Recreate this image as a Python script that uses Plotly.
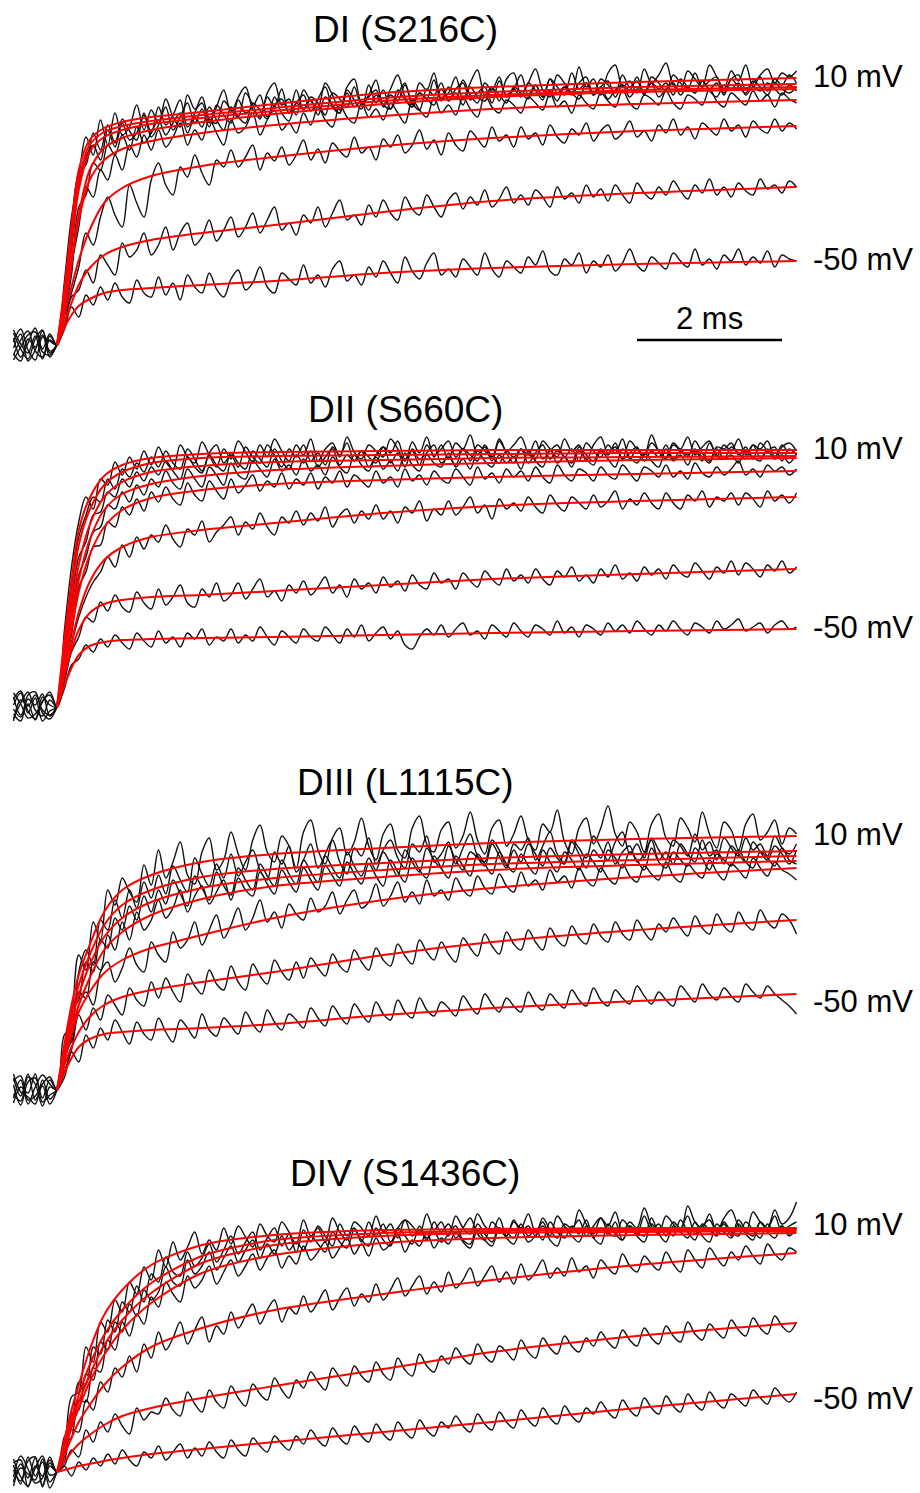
import numpy as np
import plotly.graph_objects as go

# ---------------- text ----------------
panel_titles = ["DI (S216C)", "DII (S660C)", "DIII (L1115C)", "DIV (S1436C)"]
top_label = "10 mV"
bottom_label = "-50 mV"
scale_label = "2 ms"
scale_bar_start_ms = 8.0
scale_bar_len_ms = 2.0

# ---------------- sampling ----------------
trace_t0_ms = -0.6       # first sample of the recorded traces (pulse onset at 0)
trace_dt_ms = 0.1        # sampling interval of the traces shown
fit_t = [0, 0.1, 0.2, 0.3, 0.45, 0.65, 0.9, 1.3, 2, 3, 4.5, 6, 8, 10.2]

# ---------------- DI (S216C) ----------------
DI_fits = [
    [0, 55, 120, 175, 205, 217, 223, 228, 233, 241, 252, 258, 263, 267],
    [0, 50, 110, 165, 200, 213, 219, 224, 230, 237, 247, 253, 258, 261],
    [0, 45, 100, 155, 193, 208, 215, 221, 227, 234, 244, 250, 255, 258],
    [0, 35, 80, 130, 175, 197, 207, 215, 223, 231, 241, 248, 253, 256],
    [0, 40, 85, 125, 165, 185, 196, 204, 212, 220, 229, 236, 241, 245],
    [0, 30, 58, 85, 115, 142, 157, 169, 179, 188, 199, 207, 214, 219],
    [0, 22, 42, 60, 77, 90, 98, 105, 112, 120, 133, 144, 152, 158],
    [0, 17, 30, 39, 46, 52, 55, 57, 60, 64, 72, 77, 81, 84],
]
DI_traces = [
    [12, -4, -14, 6, 15, -8, 2, 62, 128, 168,
     208, 190, 225, 200, 232, 210, 218, 240, 215, 235,
     222, 246, 228, 218, 250, 236, 242, 222, 238, 255,
     232, 248, 258, 236, 228, 252, 262, 240, 246, 230,
     255, 244, 238, 262, 250, 235, 258, 266, 242, 250,
     265, 240, 256, 270, 248, 238, 262, 255, 272, 246,
     252, 268, 245, 262, 275, 250, 258, 244, 266, 272,
     250, 262, 276, 255, 248, 270, 262, 252, 278, 258,
     266, 250, 272, 280, 258, 264, 252, 276, 262, 270,
     282, 260, 255, 274, 266, 258, 280, 268, 256, 274,
     264, 280, 258, 270, 276, 262, 272, 268, 274],
    [-10, 5, 14, -6, -12, 9, 0, 45, 118, 172,
     180, 212, 195, 220, 202, 226, 214, 205, 232, 212,
     238, 220, 230, 245, 218, 232, 248, 226, 222, 244,
     235, 228, 252, 240, 226, 248, 238, 256, 232, 242,
     250, 234, 246, 258, 238, 232, 255, 245, 236, 260,
     242, 255, 236, 250, 262, 240, 252, 246, 265, 244,
     258, 246, 265, 250, 242, 262, 255, 268, 248, 256,
     270, 250, 260, 248, 266, 258, 250, 272, 256, 262,
     250, 266, 260, 252, 270, 258, 264, 250, 268, 262,
     254, 270, 262, 256, 272, 258, 264, 268, 252, 266,
     270, 256, 262, 268, 254, 266, 260, 270, 262],
    [3, 16, -5, -15, 8, 4, 0, 52, 95, 160,
     188, 200, 185, 215, 198, 222, 205, 212, 230, 208,
     220, 238, 215, 228, 242, 222, 236, 218, 240, 230,
     222, 245, 232, 238, 250, 228, 240, 246, 232, 255,
     235, 248, 242, 230, 252, 246, 238, 258, 240, 248,
     255, 238, 250, 244, 260, 242, 235, 256, 250, 262,
     244, 256, 262, 245, 252, 258, 242, 264, 250, 256,
     248, 262, 255, 245, 266, 252, 258, 250, 262, 268,
     250, 258, 264, 248, 260, 255, 268, 252, 262, 256,
     262, 250, 266, 258, 252, 264, 256, 262, 250, 266,
     258, 252, 264, 258, 250, 262, 256, 252, 258],
    [-15, -2, 10, 13, -7, -10, 0, 30, 70, 138,
     150, 182, 175, 200, 190, 210, 195, 218, 202, 212,
     225, 210, 222, 232, 212, 228, 218, 238, 225, 215,
     238, 228, 222, 242, 235, 226, 248, 232, 224, 242,
     236, 245, 230, 248, 240, 232, 252, 238, 244, 235,
     250, 240, 236, 255, 245, 238, 252, 246, 240, 256,
     245, 252, 240, 258, 248, 244, 256, 250, 242, 258,
     252, 246, 260, 248, 254, 244, 258, 252, 246, 262,
     250, 258, 246, 255, 260, 248, 256, 252, 262, 248,
     256, 262, 250, 258, 252, 264, 254, 248, 260, 256,
     262, 250, 258, 254, 262, 256, 250, 260, 254],
    [7, -12, 2, 17, -4, 11, 0, 35, 80, 118,
     158, 148, 175, 165, 190, 175, 200, 188, 210, 195,
     215, 198, 208, 222, 200, 215, 205, 226, 212, 200,
     225, 212, 218, 232, 210, 225, 235, 215, 222, 212,
     232, 220, 238, 225, 218, 240, 228, 222, 242, 228,
     236, 225, 242, 232, 222, 245, 235, 228, 248, 232,
     240, 230, 248, 236, 228, 250, 238, 232, 245, 240,
     232, 248, 242, 235, 252, 238, 244, 232, 250, 242,
     236, 252, 244, 238, 255, 242, 236, 250, 246, 240,
     254, 242, 236, 250, 246, 240, 256, 244, 238, 252,
     246, 240, 254, 244, 250, 238, 252, 246, 242],
    [-3, 11, -16, -5, 14, -6, 0, 28, 52, 78,
     112, 100, 128, 148, 130, 118, 160, 142, 128, 165,
     182, 160, 150, 178, 168, 190, 172, 160, 185, 178,
     195, 178, 188, 200, 175, 192, 184, 198, 180, 190,
     205, 185, 196, 182, 202, 194, 188, 208, 192, 198,
     185, 206, 198, 210, 192, 200, 215, 196, 205, 190,
     212, 200, 194, 214, 206, 198, 218, 204, 210, 198,
     218, 206, 212, 200, 220, 208, 202, 216, 210, 222,
     204, 214, 220, 206, 212, 224, 208, 214, 204, 220,
     212, 226, 210, 218, 206, 222, 216, 210, 226, 214,
     220, 208, 224, 216, 212, 226, 214, 222, 216],
    [15, 1, -8, 9, -14, 5, 0, 20, 48, 55,
     75, 62, 90, 80, 70, 102, 88, 95, 112, 90,
     100, 118, 95, 112, 122, 100, 108, 125, 104, 115,
     128, 108, 118, 132, 112, 125, 138, 115, 122, 110,
     130, 122, 138, 118, 132, 145, 125, 130, 120, 140,
     128, 145, 132, 125, 148, 136, 130, 150, 138, 128,
     145, 152, 136, 148, 140, 155, 138, 146, 158, 142,
     150, 140, 155, 148, 138, 158, 146, 152, 142, 160,
     148, 156, 144, 160, 150, 142, 162, 152, 146, 158,
     150, 164, 154, 146, 160, 152, 166, 150, 158, 148,
     162, 154, 150, 166, 156, 160, 152, 164, 158],
    [-9, -16, 6, -2, 10, -12, 0, 15, 38, 28,
     50, 40, 58, 45, 62, 48, 42, 65, 52, 48,
     68, 50, 62, 45, 70, 58, 52, 72, 56, 48,
     66, 75, 55, 62, 78, 58, 52, 72, 66, 60,
     80, 62, 70, 58, 76, 84, 64, 70, 60, 78,
     68, 84, 72, 62, 88, 74, 66, 82, 92, 70,
     76, 68, 86, 78, 70, 92, 76, 68, 84, 78,
     72, 88, 80, 94, 74, 70, 86, 80, 92, 72,
     84, 78, 90, 74, 82, 96, 80, 74, 88, 82,
     76, 92, 84, 78, 96, 80, 86, 76, 90, 84,
     96, 80, 88, 82, 94, 78, 90, 86, 84],
]

# ---------------- DII (S660C) ----------------
DII_fits = [
    [0, 67, 127, 177, 209, 231, 242, 249, 253, 255, 256, 257, 257, 257],
    [0, 57, 112, 162, 197, 222, 235, 244, 249, 251, 252, 253, 254, 254],
    [0, 47, 97, 142, 182, 210, 225, 235, 241, 245, 247, 249, 250, 251],
    [0, 42, 87, 127, 167, 197, 213, 223, 231, 237, 241, 244, 247, 249],
    [0, 37, 77, 115, 152, 180, 197, 209, 217, 223, 227, 230, 233, 236],
    [0, 32, 64, 95, 125, 147, 160, 170, 177, 184, 194, 201, 206, 210],
    [0, 31, 57, 77, 94, 103, 107, 110, 112, 116, 122, 128, 133, 138],
    [0, 21, 39, 52, 61, 65, 67, 68, 69, 70, 72, 74, 76, 78],
]
DII_traces = [
    [10, -8, 3, -13, 6, 12, 0, 75, 140, 185,
     210, 198, 228, 222, 245, 232, 250, 238, 256, 242,
     260, 245, 238, 262, 250, 244, 265, 252, 240, 258,
     248, 266, 255, 245, 262, 250, 268, 256, 246, 262,
     252, 268, 246, 258, 264, 250, 270, 255, 248, 262,
     256, 250, 268, 258, 246, 265, 254, 270, 250, 262,
     248, 264, 258, 272, 252, 260, 246, 266, 256, 262,
     270, 254, 248, 266, 258, 250, 268, 256, 262, 246,
     262, 270, 254, 260, 248, 266, 258, 252, 272, 256,
     250, 264, 258, 270, 252, 260, 266, 250, 262, 256,
     268, 252, 262, 258, 266, 250, 260, 264, 256],
    [-12, 4, 15, -3, -9, 7, 0, 60, 120, 170,
     192, 210, 205, 228, 218, 238, 230, 244, 235, 250,
     240, 256, 244, 238, 258, 248, 236, 254, 262, 244,
     252, 240, 260, 250, 244, 262, 252, 240, 258, 250,
     262, 246, 254, 242, 260, 252, 264, 246, 256, 250,
     244, 260, 254, 266, 248, 256, 242, 262, 252, 258,
     266, 250, 258, 246, 262, 256, 250, 268, 254, 244,
     258, 252, 266, 248, 256, 262, 250, 258, 246, 264,
     256, 250, 262, 254, 268, 248, 258, 252, 264, 256,
     248, 262, 256, 250, 266, 254, 246, 260, 258, 264,
     252, 260, 248, 264, 256, 250, 262, 254, 258],
    [2, 14, -6, 9, -14, -4, 0, 50, 102, 150,
     165, 192, 195, 215, 210, 228, 220, 235, 226, 240,
     232, 246, 236, 228, 250, 240, 234, 252, 242, 236,
     254, 244, 238, 256, 248, 240, 258, 246, 238, 252,
     244, 256, 240, 250, 258, 242, 252, 246, 256, 240,
     252, 260, 244, 254, 240, 258, 248, 254, 262, 244,
     250, 242, 258, 252, 246, 262, 250, 244, 256, 250,
     258, 244, 254, 262, 248, 256, 250, 244, 260, 252,
     246, 258, 252, 264, 248, 254, 260, 246, 256, 250,
     262, 248, 256, 252, 258, 246, 264, 252, 248, 260,
     254, 248, 262, 250, 256, 260, 246, 258, 252],
    [-7, -14, 8, 2, 13, -9, 0, 45, 88, 132,
     150, 175, 180, 202, 198, 215, 205, 222, 212, 228,
     220, 236, 224, 218, 238, 228, 220, 240, 232, 222,
     244, 232, 228, 246, 238, 230, 248, 236, 242, 232,
     248, 236, 242, 232, 250, 240, 234, 252, 242, 236,
     250, 238, 246, 236, 254, 242, 236, 252, 244, 240,
     254, 240, 248, 238, 256, 246, 240, 252, 244, 250,
     238, 256, 246, 240, 258, 244, 250, 240, 256, 248,
     242, 256, 248, 240, 258, 250, 244, 254, 246, 240,
     258, 246, 252, 242, 256, 250, 244, 258, 248, 252,
     244, 256, 250, 246, 258, 248, 252, 244, 254],
    [14, 3, -11, -7, 5, 15, 0, 40, 72, 120,
     135, 160, 162, 185, 180, 200, 192, 208, 196, 215,
     205, 220, 208, 202, 224, 212, 206, 226, 216, 208,
     228, 214, 222, 232, 216, 226, 220, 234, 218, 228,
     222, 234, 218, 230, 224, 236, 220, 232, 226, 220,
     236, 224, 230, 220, 238, 226, 232, 222, 236, 228,
     224, 238, 230, 222, 240, 228, 234, 224, 238, 230,
     236, 226, 240, 230, 224, 242, 232, 226, 238, 234,
     226, 240, 232, 228, 242, 234, 226, 240, 236, 230,
     242, 230, 236, 228, 244, 234, 230, 240, 232, 238,
     246, 232, 238, 230, 242, 236, 240, 232, 238],
    [-2, -10, 12, 15, -6, -12, 0, 28, 62, 90,
     110, 125, 135, 150, 140, 162, 150, 170, 158, 172,
     165, 182, 168, 160, 178, 172, 186, 165, 175, 182,
     190, 172, 185, 178, 194, 180, 172, 190, 184, 196,
     182, 194, 186, 200, 180, 192, 198, 184, 196, 188,
     202, 188, 196, 184, 200, 194, 206, 186, 198, 192,
     206, 192, 200, 210, 194, 202, 188, 208, 198, 204,
     196, 210, 200, 194, 212, 202, 196, 210, 204, 198,
     212, 200, 206, 216, 198, 208, 202, 214, 204, 198,
     214, 204, 198, 212, 206, 216, 200, 210, 206, 214,
     202, 214, 208, 200, 216, 206, 212, 204, 214],
    [8, 16, -4, -12, 10, 2, 0, 25, 55, 70,
     90, 85, 105, 96, 112, 100, 95, 115, 104, 98,
     118, 102, 110, 122, 104, 100, 118, 110, 124, 106,
     112, 124, 108, 118, 128, 110, 116, 106, 122, 114,
     126, 112, 120, 130, 114, 122, 110, 128, 118, 124,
     114, 130, 120, 126, 116, 132, 122, 118, 134, 124,
     128, 118, 134, 126, 120, 136, 128, 122, 138, 126,
     132, 124, 138, 128, 122, 136, 130, 140, 126, 132,
     124, 138, 130, 142, 128, 134, 126, 140, 132, 138,
     128, 142, 134, 130, 144, 136, 128, 140, 134, 146,
     132, 144, 138, 130, 142, 136, 146, 134, 140],
    [-14, 7, 1, 12, -3, -8, 0, 18, 42, 48,
     62, 55, 68, 60, 72, 64, 58, 74, 66, 60,
     76, 64, 70, 60, 74, 68, 78, 62, 70, 66,
     78, 64, 72, 66, 80, 70, 62, 76, 70, 64,
     78, 70, 66, 80, 72, 64, 78, 70, 82, 66,
     74, 80, 68, 76, 62, 58, 70, 78, 72, 82,
     70, 78, 84, 72, 76, 68, 82, 76, 70, 84,
     76, 70, 82, 78, 72, 86, 74, 80, 70, 82,
     78, 72, 84, 76, 82, 74, 86, 78, 72, 82,
     76, 86, 78, 72, 84, 80, 74, 86, 78, 82,
     88, 76, 80, 84, 74, 82, 86, 78, 80],
]

# ---------------- DIII (L1115C) ----------------
DIII_fits = [
    [0, 45, 85, 115, 145, 178, 200, 215, 228, 236, 242, 247, 251, 254],
    [0, 40, 75, 105, 135, 165, 185, 200, 213, 221, 227, 232, 236, 239],
    [0, 35, 68, 95, 125, 153, 172, 188, 202, 212, 220, 226, 230, 234],
    [0, 32, 60, 85, 112, 140, 158, 175, 191, 204, 213, 220, 225, 229],
    [0, 30, 55, 78, 98, 117, 130, 142, 155, 172, 190, 202, 213, 222],
    [0, 24, 43, 58, 73, 85, 93, 100, 108, 118, 135, 148, 160, 170],
    [0, 17, 32, 43, 51, 56, 58, 60, 62, 66, 75, 82, 89, 96],
]
DIII_traces = [
    [12, -6, 16, -10, 4, -14, 0, 38, 70, 135,
     120, 168, 150, 200, 185, 212, 198, 188, 225, 205,
     240, 212, 228, 248, 215, 206, 238, 252, 220, 230,
     258, 236, 220, 250, 265, 238, 228, 254, 244, 222,
     258, 270, 240, 226, 252, 262, 235, 248, 272, 244,
     230, 256, 266, 240, 232, 262, 274, 246, 238, 260,
     268, 242, 254, 278, 250, 236, 262, 270, 244, 256,
     274, 250, 240, 266, 258, 280, 248, 236, 262, 272,
     246, 262, 284, 256, 244, 268, 258, 238, 266, 276,
     252, 244, 272, 262, 248, 278, 256, 242, 268, 260,
     240, 266, 276, 250, 258, 270, 246, 262, 256],
    [-8, 10, -14, 3, 15, 6, 0, 55, 62, 118,
     140, 125, 170, 160, 190, 172, 200, 182, 208, 192,
     215, 196, 224, 210, 198, 232, 216, 204, 226, 212,
     236, 214, 228, 240, 220, 210, 238, 226, 244, 218,
     230, 246, 222, 236, 250, 228, 216, 242, 234, 252,
     226, 240, 250, 232, 222, 246, 238, 254, 228, 236,
     248, 226, 242, 256, 234, 228, 250, 240, 224, 246,
     240, 252, 230, 244, 258, 236, 228, 250, 242, 232,
     254, 242, 230, 248, 258, 236, 246, 232, 252, 240,
     230, 250, 244, 234, 256, 240, 248, 230, 252, 242,
     234, 252, 240, 246, 234, 254, 242, 236, 246],
    [5, -15, 8, 12, -8, 10, 0, 25, 80, 90,
     128, 118, 150, 142, 172, 160, 184, 170, 194, 178,
     200, 186, 210, 196, 184, 214, 202, 190, 218, 204,
     195, 222, 210, 200, 226, 214, 204, 230, 216, 206,
     230, 218, 208, 234, 222, 212, 238, 224, 214, 232,
     220, 238, 226, 214, 240, 228, 218, 242, 230, 222,
     244, 230, 220, 238, 232, 224, 246, 234, 222, 240,
     228, 246, 236, 224, 242, 232, 226, 248, 236, 222,
     240, 232, 248, 226, 238, 244, 228, 236, 250, 230,
     238, 226, 246, 236, 228, 250, 234, 240, 226, 244,
     236, 228, 248, 238, 230, 244, 236, 226, 240],
    [-13, 3, -3, 16, -12, -5, 0, 30, 52, 98,
     92, 128, 120, 155, 140, 168, 150, 178, 160, 170,
     190, 172, 182, 200, 178, 194, 204, 186, 198, 210,
     190, 212, 200, 194, 218, 206, 196, 220, 208, 198,
     222, 210, 200, 224, 214, 204, 228, 216, 206, 226,
     214, 204, 230, 218, 208, 232, 220, 212, 234, 222,
     212, 234, 224, 214, 236, 226, 216, 238, 226, 218,
     236, 224, 216, 240, 228, 218, 238, 230, 220, 236,
     228, 218, 240, 232, 222, 238, 230, 220, 242, 228,
     222, 238, 230, 224, 242, 232, 220, 236, 230, 224,
     240, 228, 222, 238, 232, 224, 242, 230, 226],
    [9, 14, -10, -6, 6, 13, 0, 40, 48, 85,
     98, 85, 118, 128, 108, 122, 142, 125, 118, 148,
     135, 128, 158, 142, 150, 168, 145, 160, 175, 152,
     165, 182, 160, 172, 190, 168, 178, 162, 186, 176,
     170, 192, 178, 184, 198, 176, 190, 200, 182, 188,
     206, 184, 194, 208, 188, 198, 186, 210, 194, 200,
     190, 212, 200, 194, 214, 202, 196, 216, 204, 198,
     218, 204, 210, 200, 220, 208, 214, 202, 222, 210,
     204, 222, 212, 206, 226, 214, 208, 224, 216, 210,
     228, 214, 208, 226, 218, 212, 230, 218, 210, 226,
     220, 212, 232, 222, 214, 228, 220, 216, 210],
    [-4, -11, 13, 6, -16, 3, 0, 18, 40, 75,
     60, 82, 70, 95, 85, 75, 102, 90, 84, 108,
     92, 112, 98, 88, 116, 104, 96, 120, 106, 100,
     124, 108, 100, 126, 114, 106, 130, 118, 110, 128,
     112, 132, 122, 114, 136, 124, 118, 140, 128, 120,
     142, 130, 124, 146, 134, 126, 150, 138, 130, 148,
     136, 128, 152, 142, 134, 156, 144, 136, 158, 146,
     140, 160, 148, 140, 162, 150, 144, 164, 152, 146,
     166, 154, 148, 168, 156, 150, 170, 158, 150, 166,
     158, 172, 162, 154, 174, 162, 156, 176, 164, 158,
     178, 166, 160, 180, 168, 162, 176, 170, 156],
    [16, -2, -7, -14, 10, -9, 0, 12, 38, 28,
     55, 42, 62, 50, 70, 58, 46, 68, 56, 50,
     72, 58, 48, 70, 62, 52, 76, 60, 54, 72,
     64, 56, 78, 66, 58, 80, 68, 60, 76, 70,
     62, 82, 72, 64, 84, 74, 66, 86, 76, 68,
     88, 76, 70, 90, 78, 72, 92, 80, 74, 88,
     82, 74, 94, 84, 76, 96, 86, 78, 92, 84,
     78, 98, 86, 80, 96, 88, 82, 100, 90, 84,
     102, 90, 84, 100, 92, 86, 104, 94, 86, 98,
     90, 84, 104, 96, 88, 106, 96, 90, 102, 94,
     88, 106, 98, 92, 104, 96, 90, 84, 76],
]

# ---------------- DIV (S1436C) ----------------
DIV_fits = [
    [0, 32, 62, 87, 122, 157, 182, 207, 227, 237, 242, 243, 244, 244],
    [0, 27, 54, 77, 107, 137, 162, 189, 216, 232, 239, 241, 242, 242],
    [0, 24, 49, 70, 97, 127, 152, 179, 209, 227, 236, 239, 240, 241],
    [0, 22, 44, 64, 90, 117, 142, 169, 199, 217, 229, 234, 237, 239],
    [0, 17, 34, 50, 67, 87, 105, 125, 144, 162, 178, 192, 207, 219],
    [0, 10, 20, 28, 37, 47, 56, 64, 74, 86, 103, 120, 136, 149],
    [0, 2, 4, 6, 8, 11, 14, 18, 23, 30, 40, 50, 64, 78],
]
DIV_traces = [
    [7, -12, 15, -4, 10, -16, 0, 20, 75, 80,
     125, 110, 150, 140, 172, 160, 190, 178, 205, 192,
     222, 205, 230, 212, 225, 240, 218, 232, 222, 244,
     228, 246, 235, 225, 248, 236, 230, 250, 240, 228,
     252, 236, 244, 230, 254, 240, 232, 250, 244, 236,
     256, 240, 248, 234, 252, 246, 238, 258, 242, 250,
     236, 256, 244, 238, 258, 246, 240, 254, 236, 250,
     244, 258, 240, 250, 236, 256, 246, 240, 262, 248,
     238, 254, 246, 260, 240, 250, 244, 264, 246, 238,
     256, 248, 240, 266, 250, 244, 258, 240, 254, 262,
     246, 240, 260, 250, 244, 262, 248, 254, 270],
    [-10, 8, -6, 14, -13, 9, 0, 35, 45, 90,
     88, 125, 118, 152, 140, 170, 160, 186, 170, 198,
     190, 215, 200, 196, 220, 206, 214, 228, 210, 222,
     236, 218, 230, 240, 222, 234, 244, 226, 238, 220,
     242, 230, 246, 236, 226, 248, 236, 244, 230, 250,
     236, 248, 230, 244, 252, 236, 242, 232, 250, 240,
     248, 234, 244, 254, 238, 232, 250, 242, 236, 252,
     240, 246, 236, 254, 242, 234, 248, 244, 252, 236,
     246, 254, 240, 236, 252, 244, 238, 256, 242, 248,
     236, 250, 244, 256, 238, 246, 252, 240, 248, 236,
     252, 242, 236, 250, 244, 256, 240, 246, 250],
    [13, -5, -14, 4, 16, -3, 0, 15, 58, 62,
     98, 92, 130, 122, 150, 140, 168, 156, 182, 172,
     180, 205, 190, 186, 212, 198, 206, 220, 202, 214,
     226, 210, 222, 232, 214, 228, 218, 236, 222, 230,
     222, 236, 228, 220, 240, 230, 224, 242, 232, 226,
     244, 232, 226, 244, 236, 228, 246, 234, 240, 230,
     238, 246, 232, 228, 248, 238, 230, 244, 240, 234,
     248, 236, 242, 232, 250, 240, 234, 246, 238, 252,
     234, 244, 238, 250, 232, 246, 240, 236, 254, 240,
     244, 236, 252, 240, 232, 248, 242, 236, 250, 240,
     236, 250, 242, 234, 248, 240, 246, 236, 244],
    [-5, 16, 3, -11, -6, 12, 0, 28, 35, 72,
     70, 104, 100, 132, 122, 150, 136, 158, 148, 175,
     165, 190, 178, 170, 196, 184, 192, 206, 188, 200,
     212, 196, 206, 218, 202, 214, 222, 204, 216, 208,
     226, 212, 220, 230, 214, 224, 234, 218, 228, 216,
     234, 222, 228, 238, 220, 232, 226, 240, 224, 234,
     228, 240, 230, 224, 242, 232, 226, 244, 234, 228,
     242, 230, 236, 246, 232, 226, 244, 236, 230, 246,
     234, 228, 248, 238, 232, 246, 236, 230, 248, 238,
     230, 246, 240, 234, 250, 236, 230, 248, 240, 234,
     248, 238, 232, 250, 240, 234, 246, 238, 244],
    [2, -9, 11, 15, -15, 6, 0, 10, 42, 40,
     72, 62, 90, 80, 104, 95, 116, 100, 128, 114,
     140, 122, 134, 150, 128, 142, 155, 130, 146, 138,
     160, 144, 156, 168, 148, 162, 172, 150, 164, 158,
     176, 160, 170, 182, 162, 174, 184, 166, 178, 170,
     188, 172, 182, 194, 176, 186, 196, 178, 190, 180,
     200, 184, 192, 204, 186, 196, 206, 190, 200, 188,
     208, 192, 200, 212, 194, 204, 196, 214, 200, 206,
     194, 212, 204, 198, 218, 206, 200, 216, 208, 202,
     220, 208, 200, 222, 212, 204, 224, 214, 206, 220,
     212, 226, 216, 208, 228, 218, 212, 224, 220],
    [-14, 4, -2, -8, 13, -10, 0, 6, 22, 15,
     42, 30, 50, 40, 58, 46, 38, 64, 52, 60,
     58, 74, 62, 56, 80, 68, 60, 82, 70, 64,
     86, 74, 66, 88, 78, 72, 94, 82, 74, 92,
     84, 100, 90, 82, 104, 94, 86, 106, 96, 90,
     110, 98, 92, 114, 102, 96, 118, 106, 100, 116,
     108, 124, 114, 108, 128, 116, 110, 126, 120, 112,
     132, 120, 114, 134, 124, 118, 136, 126, 120, 134,
     126, 140, 130, 124, 142, 132, 126, 144, 134, 128,
     146, 136, 130, 150, 138, 132, 148, 140, 134, 152,
     142, 136, 154, 144, 138, 156, 146, 140, 150],
    [9, 12, -15, 6, -4, 15, 0, 6, -4, 10,
     2, 14, 6, 18, 8, 22, 12, 6, 20, 14,
     26, 12, 20, 28, 14, 24, 16, 30, 20, 14,
     32, 22, 16, 34, 26, 20, 36, 28, 22, 36,
     28, 42, 32, 26, 44, 34, 28, 46, 36, 30,
     48, 38, 32, 50, 40, 34, 52, 42, 36, 50,
     44, 56, 46, 40, 58, 48, 42, 60, 50, 44,
     62, 52, 46, 64, 54, 48, 66, 56, 50, 64,
     58, 70, 60, 54, 72, 62, 56, 74, 64, 58,
     76, 66, 60, 78, 68, 62, 80, 70, 64, 78,
     72, 66, 82, 74, 68, 84, 76, 70, 80],
]

panels_fits = [DI_fits, DII_fits, DIII_fits, DIV_fits]
panels_traces = [DI_traces, DII_traces, DIII_traces, DIV_traces]

# ---------------- geometry (pixels of the 920 x 1493 page) ----------------
FIG_W, FIG_H = 920, 1493
PX_PER_MS = 72.5
ONSET_PX = 57
# (top px, bottom px, baseline px) of each panel's plotting window
panel_windows = [(40, 380, 345), (420, 745, 707), (800, 1130, 1090), (1190, 1493, 1472)]
title_y_px = [29, 409, 783, 1173]
top_label_y_px = [76, 448, 834, 1224]
bottom_label_y_px = [259, 627, 1001, 1398]
TITLE_X_PX = 405
LABEL_X_PX = 811

x_range = [-ONSET_PX / PX_PER_MS, (FIG_W - ONSET_PX) / PX_PER_MS]

fig = go.Figure()
layout_axes = {}
for k in range(4):
    suffix = "" if k == 0 else str(k + 1)
    xa, ya = "x" + suffix, "y" + suffix
    top_px, bot_px, base_px = panel_windows[k]
    layout_axes["xaxis" + suffix] = dict(domain=[0, 1], range=x_range, visible=False,
                                         anchor=ya, fixedrange=True)
    layout_axes["yaxis" + suffix] = dict(domain=[1 - bot_px / FIG_H, 1 - top_px / FIG_H],
                                         range=[base_px - bot_px, base_px - top_px],
                                         visible=False, anchor=xa, fixedrange=True)
    for tr in panels_traces[k]:
        t = trace_t0_ms + trace_dt_ms * np.arange(len(tr))
        fig.add_trace(go.Scatter(x=t, y=tr, mode="lines", xaxis=xa, yaxis=ya,
                                 line=dict(color="#111111", width=1.4, shape="spline", smoothing=1.0),
                                 hoverinfo="skip", showlegend=False))
    for ft in panels_fits[k]:
        fig.add_trace(go.Scatter(x=fit_t, y=ft, mode="lines", xaxis=xa, yaxis=ya,
                                 line=dict(color="#ff0000", width=2, shape="spline", smoothing=0.8),
                                 hoverinfo="skip", showlegend=False))

# scale bar on the first panel
sb_y = panel_windows[0][2] - 340
fig.add_trace(go.Scatter(x=[scale_bar_start_ms, scale_bar_start_ms + scale_bar_len_ms],
                         y=[sb_y, sb_y], mode="lines", xaxis="x", yaxis="y",
                         line=dict(color="black", width=2.5), hoverinfo="skip", showlegend=False))

FONT = "Arial, 'Liberation Sans', sans-serif"
annotations = []
for k in range(4):
    annotations.append(dict(text=panel_titles[k], xref="paper", yref="paper",
                            x=TITLE_X_PX / FIG_W, y=1 - title_y_px[k] / FIG_H,
                            xanchor="center", yanchor="middle", showarrow=False,
                            font=dict(size=37, color="black", family=FONT)))
    annotations.append(dict(text=top_label, xref="paper", yref="paper",
                            x=LABEL_X_PX / FIG_W, y=1 - top_label_y_px[k] / FIG_H,
                            xanchor="left", yanchor="middle", showarrow=False,
                            font=dict(size=31, color="black", family=FONT)))
    annotations.append(dict(text=bottom_label, xref="paper", yref="paper",
                            x=LABEL_X_PX / FIG_W, y=1 - bottom_label_y_px[k] / FIG_H,
                            xanchor="left", yanchor="middle", showarrow=False,
                            font=dict(size=31, color="black", family=FONT)))
annotations.append(dict(text=scale_label, xref="x", yref="y",
                        x=scale_bar_start_ms + scale_bar_len_ms / 2,
                        y=panel_windows[0][2] - 318, xanchor="center", yanchor="middle",
                        showarrow=False, font=dict(size=31, color="black", family=FONT)))

fig.update_layout(width=FIG_W, height=FIG_H, margin=dict(l=0, r=0, t=0, b=0, pad=0),
                  paper_bgcolor="white", plot_bgcolor="rgba(0,0,0,0)",
                  annotations=annotations, showlegend=False, **layout_axes)

fig.write_html("out.html", config={"displayModeBar": False, "responsive": False},
               post_script="document.body.style.margin='0';document.body.style.overflow='hidden';")
